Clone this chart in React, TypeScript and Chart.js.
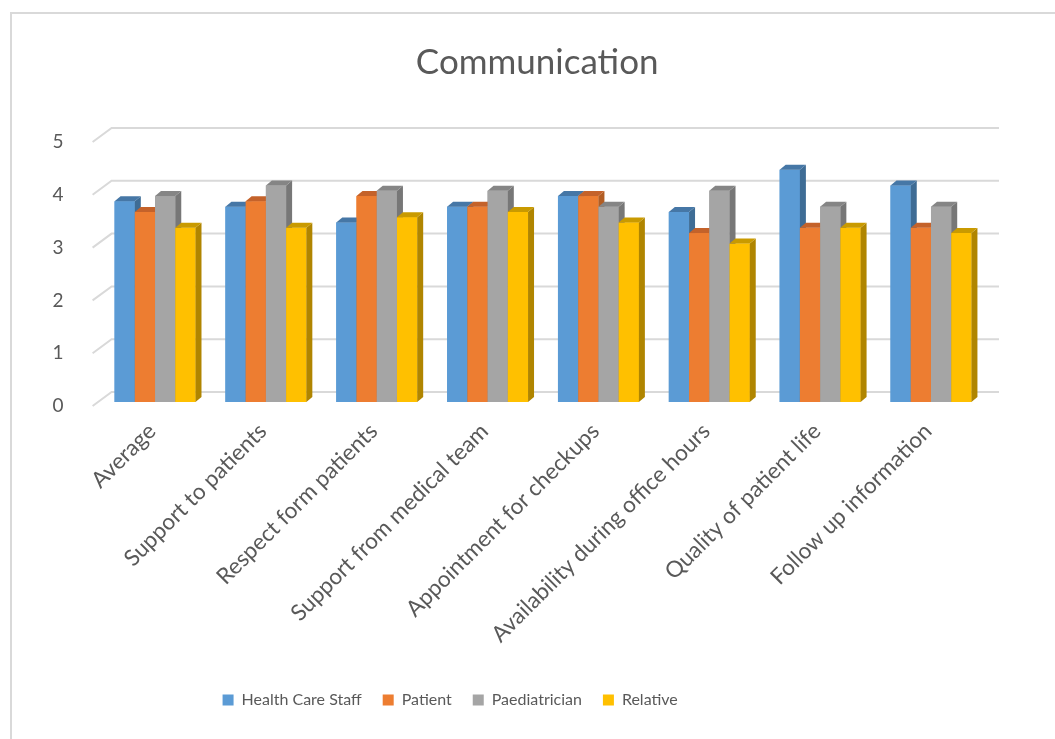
import React, { useEffect, useRef } from "react";
import { Chart, registerables } from "chart.js";

Chart.register(...registerables);

const categories = [
  "Average",
  "Support to patients",
  "Respect form patients",
  "Support from medical team",
  "Appointment for checkups",
  "Availability during office hours",
  "Quality of patient life",
  "Follow up information",
];
const healthCareStaff = [3.8, 3.7, 3.4, 3.7, 3.9, 3.6, 4.4, 4.1];
const patient = [3.6, 3.8, 3.9, 3.7, 3.9, 3.2, 3.3, 3.3];
const paediatrician = [3.9, 4.1, 4.0, 4.0, 3.7, 4.0, 3.7, 3.7];
const relative = [3.3, 3.3, 3.5, 3.6, 3.4, 3.0, 3.3, 3.2];
const seriesNames = ["Health Care Staff", "Patient", "Paediatrician", "Relative"];

const frontColors = ["#5B9BD5", "#ED7D31", "#A5A5A5", "#FFC000"];
const sideColors = ["#3E6C95", "#B25D23", "#777777", "#B08500"];
const topColors = ["#4677A6", "#C4622A", "#858585", "#C99A00"];

const FONT = "Lato, 'Open Sans', sans-serif";
const TEXT = "#595959";

const gridPlugin = {
  id: "grid3d",
  beforeDatasetsDraw(chart: any) {
    const y = chart.scales.y;
    const { left } = chart.chartArea;
    const ctx = chart.ctx;
    ctx.save();
    ctx.strokeStyle = "#D9D9D9";
    ctx.lineWidth = 2;
    y.ticks.forEach((t: any) => {
      const yf = y.getPixelForValue(t.value);
      ctx.beginPath();
      ctx.moveTo(left - 7, yf + 4);
      ctx.lineTo(left + 12, yf - 10);
      ctx.lineTo(999, yf - 10);
      ctx.stroke();
    });
    ctx.restore();
  },
};

const bar3dPlugin = {
  id: "bar3d",
  afterDatasetsDraw(chart: any) {
    const ctx = chart.ctx;
    const dx = 6;
    const dy = 5;
    ctx.save();
    const n = chart.data.labels.length;
    for (let i = 0; i < n; i++) {
      chart.data.datasets.forEach((_: any, di: number) => {
        const meta = chart.getDatasetMeta(di);
        const el = meta.data[i];
        if (!el) return;
        const p = el.getProps(["x", "y", "base", "width"], true);
        const l = p.x - p.width / 2;
        const r = p.x + p.width / 2;
        const t = p.y;
        const b = p.base;
        ctx.fillStyle = frontColors[di];
        ctx.fillRect(l, t, r - l, b - t);
        ctx.fillStyle = sideColors[di];
        ctx.beginPath();
        ctx.moveTo(r, t);
        ctx.lineTo(r + dx, t - dy);
        ctx.lineTo(r + dx, b - dy);
        ctx.lineTo(r, b);
        ctx.closePath();
        ctx.fill();
        ctx.fillStyle = topColors[di];
        ctx.beginPath();
        ctx.moveTo(l, t);
        ctx.lineTo(l + dx, t - dy);
        ctx.lineTo(r + dx, t - dy);
        ctx.lineTo(r, t);
        ctx.closePath();
        ctx.fill();
      });
    }
    ctx.restore();
  },
};

const boxShiftPlugin = {
  id: "boxShift",
  afterLayout(chart: any) {
    const lg = chart.legend;
    if (lg) {
      lg.left -= 43;
      lg.right -= 43;
    }
    const tb = chart.titleBlock;
    if (tb) {
      tb.left += 44;
      tb.right += 44;
    }
  },
};

export default function App() {
  const ref = useRef<HTMLCanvasElement | null>(null);
  useEffect(() => {
    if (!ref.current) return;
    const series = [healthCareStaff, patient, paediatrician, relative];
    const chart = new Chart(ref.current, {
      type: "bar",
      data: {
        labels: categories,
        datasets: series.map((d, i) => ({
          label: seriesNames[i],
          data: d,
          backgroundColor: frontColors[i],
          borderWidth: 0,
          categoryPercentage: 0.73,
          barPercentage: 1.0,
        })),
      },
      options: {
        responsive: false,
        animation: false,
        layout: { padding: { left: 0, right: 68.6, top: 0, bottom: 21 } },
        plugins: {
          title: {
            display: true,
            text: "Communication",
            color: TEXT,
            font: { family: FONT, size: 35, weight: "normal" },
            padding: { top: 42, bottom: 54 },
          },
          legend: {
            position: "bottom",
            labels: {
              color: TEXT,
              font: { family: FONT, size: 16 },
              boxWidth: 11,
              boxHeight: 11,
              padding: 21,
            },
          },
          tooltip: { enabled: false },
        },
        scales: {
          x: {
            grid: { display: false },
            border: { display: false },
            ticks: {
              color: TEXT,
              font: { family: FONT, size: 22.5 },
              minRotation: 45,
              maxRotation: 45,
              padding: 8,
              labelOffset: -3,
            },
            afterFit: (s: any) => {
              s.height = 269;
            },
          },
          y: {
            min: 0,
            max: 5,
            grid: { display: false },
            border: { display: false },
            ticks: {
              stepSize: 1,
              color: TEXT,
              font: { family: FONT, size: 19 },
              padding: 28,
              labelOffset: 4,
            },
            afterFit: (s: any) => {
              s.width = 99.6;
            },
          },
        },
      },
      plugins: [gridPlugin, bar3dPlugin, boxShiftPlugin],
    });
    return () => chart.destroy();
  }, []);
  return (
    <>
      <div
        style={{
          position: "fixed",
          left: 10,
          top: 12,
          width: 1200,
          height: 900,
          border: "2px solid #D9D9D9",
          background: "#fff",
        }}
      />
      <canvas
        ref={ref}
        width={1055}
        height={739}
        style={{ position: "fixed", left: 0, top: 0, width: 1055, height: 739 }}
      />
    </>
  );
}
